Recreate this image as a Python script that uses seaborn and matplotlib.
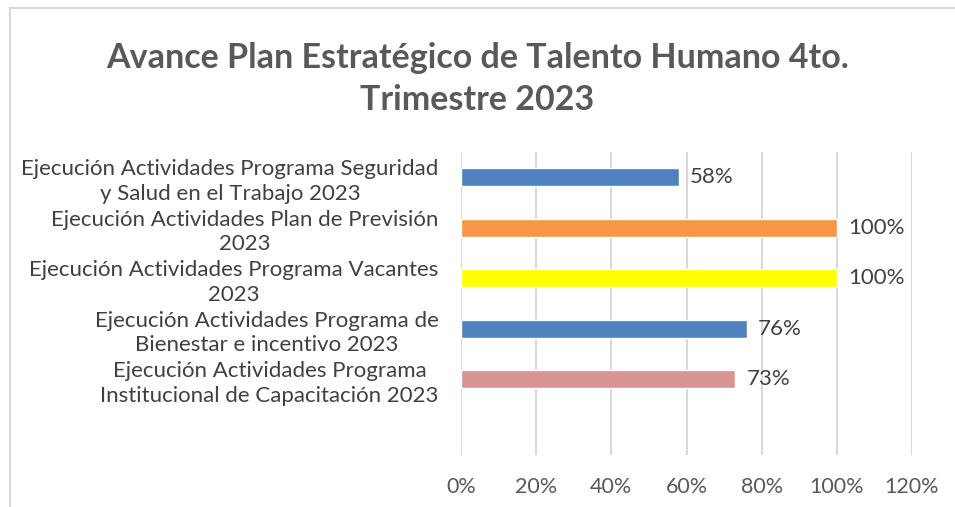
import seaborn as sns
import matplotlib.pyplot as plt
import pandas as pd
from matplotlib.patches import Rectangle

# data
categories = [
    'Ejecución Actividades Programa Seguridad\ny Salud en el Trabajo 2023',
    'Ejecución Actividades Plan de Previsión\n2023',
    'Ejecución Actividades Programa Vacantes\n2023',
    'Ejecución Actividades Programa de\nBienestar e incentivo 2023',
    'Ejecución Actividades Programa\nInstitucional de Capacitación 2023',
]
avance = [0.58, 1.00, 1.00, 0.76, 0.73]
colores = ['#4F81BD', '#F79646', '#FFFF00', '#4F81BD', '#D99594']
xticks = [0, 0.2, 0.4, 0.6, 0.8, 1.0, 1.2]

df = pd.DataFrame({'actividad': categories, 'avance': avance})

sns.set_style('white')
plt.rcParams['font.family'] = ['Lato', 'DejaVu Sans']

fig = plt.figure(figsize=(9.55, 5.07), dpi=100)
ax = fig.add_axes([0.4827, 0.1026, 0.4723, 0.5976])

sns.barplot(data=df, y='actividad', x='avance', hue='actividad', palette=colores,
            legend=False, width=0.36, orient='h', ax=ax, saturation=1)

# empty slot below the last bar, like the original
ax.set_ylim(5.5, -0.5)
ax.set_xlim(0, 1.2)
ax.set_xticks(xticks)
ax.set_xticklabels([f'{int(round(t * 100))}%' for t in xticks], fontsize=15.5, color='#595959')
ax.tick_params(axis='x', length=0, pad=16)
ax.tick_params(axis='y', length=0, pad=16)
for lbl in ax.get_yticklabels():
    lbl.set_fontsize(16)
    lbl.set_color('#404040')
    lbl.set_multialignment('center')
    lbl.set_linespacing(1.27)

ax.set_xlabel('')
ax.set_ylabel('')
ax.grid(axis='x', color='#D9D9D9', linewidth=1.5)
ax.set_axisbelow(True)
for s in ax.spines.values():
    s.set_visible(False)

for c in ax.containers:
    ax.bar_label(c, labels=[f'{int(round(v * 100))}%' for v in c.datavalues],
                 padding=8, fontsize=16, color='#404040')

fig.text(0.5, 0.845, 'Avance Plan Estratégico de Talento Humano 4to.\nTrimestre 2023',
         ha='center', va='center', fontsize=24.5, fontweight='bold', color='#595959',
         linespacing=1.38)

# chart frame
fig.patches.append(Rectangle((0.0105, -0.1), 1.5, 1.084, transform=fig.transFigure,
                             fill=False, edgecolor='#D9D9D9', linewidth=1.5))

plt.savefig('out.png', dpi=100)
